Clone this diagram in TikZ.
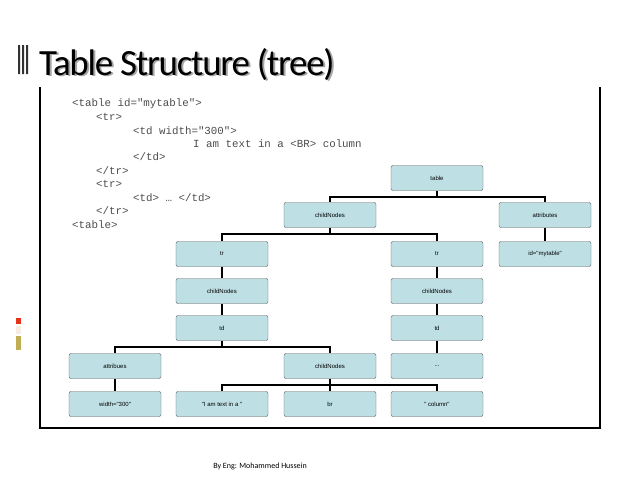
\documentclass[tikz,border=0pt]{standalone}
\usepackage{fontspec}
\setmainfont{Carlito}
\newfontfamily\boxfont{Liberation Sans}
\newfontfamily\codefont{Liberation Mono}
\usepackage{tikz}
\usetikzlibrary{positioning}
\definecolor{boxfill}{RGB}{190,224,229}
\tikzstyle{box}=[rectangle, fill=boxfill, draw=black!65, rounded corners=2pt, minimum width=92pt, minimum height=25pt, font=\boxfont\fontsize{6}{7}\selectfont]
\tikzstyle{code}=[anchor=base west, inner sep=0pt, font=\codefont\fontsize{10.8}{11}\selectfont, text=black!70]
\tikzstyle{link}=[line width=1.6pt]
\tikzstyle{heading}=[anchor=base west, inner sep=0pt, font=\fontsize{37}{38}\selectfont]
\begin{document}
\begin{tikzpicture}[x=1pt,y=-1pt]
\useasboundingbox (0,0) rectangle (638,479);
%Title
\fill[black!80] (18,45) rectangle (20,74) (22,45) rectangle (24,74) (26,45) rectangle (28,74);
\node[heading, text=black!35] (shadow) at (41,76.5) {\addfontfeature{LetterSpace=-3.5}Table Structure (tree)};
\node[heading] (title) at (39,75) {\addfontfeature{LetterSpace=-3.5}Table Structure (tree)};
%Side marks
\fill[red!60!brown] (16,318) rectangle (21,324);
\fill[brown!15] (16,326) rectangle (21,334);
\fill[olive!60!brown!70] (16,336) rectangle (21,350);
%Frame
\draw[line width=1.6pt] (40,87) -- (40,428) -- (600,428) -- (600,87);
%Code
\node[code] (c1) at (72,106) {<table id="mytable">};
\node[code] (c2) at (96,120) {<tr>};
\node[code] (c3) at (133,134) {<td width="300">};
\node[code] (c4) at (193,147) {I am text in a <BR> column};
\node[code] (c5) at (133,160) {</td>};
\node[code] (c6) at (96,174) {</tr>};
\node[code] (c7) at (96,187) {<tr>};
\node[code] (c8) at (133,201) {<td> … </td>};
\node[code] (c9) at (96,214) {</tr>};
\node[code] (c10) at (72,228) {<table>};
%Tree
\node[box] (table) at (437,178) {table};
\node[box] (cn) at (330,215) {childNodes};
\node[box] (attr) at (545,215) {attributes};
\node[box] (id) at (545,254) {id="mytable"};
\node[box] (tr1) at (222,254) {tr};
\node[box] (cn1) at (222,291) {childNodes};
\node[box] (td1) at (222,328) {td};
\node[box] (tr2) at (437,254) {tr};
\node[box] (cn2) at (437,291) {childNodes};
\node[box] (td2) at (437,328) {td};
\node[box] (dots) at (437,366) {...};
\node[box] (attb) at (115,366) {attribues};
\node[box] (width) at (115,404) {width="300"};
\node[box] (cn3) at (330,366) {childNodes};
\node[box] (txt1) at (222,404) {"I am text in a "};
\node[box] (br) at (330,404) {br};
\node[box] (txt2) at (437,404) {" column"};
%Connectors
\foreach \p/\c in {table/cn, table/attr, attr/id, cn/tr1, cn/tr2, tr1/cn1, cn1/td1, tr2/cn2, cn2/td2, td2/dots, td1/attb, td1/cn3, attb/width, cn3/txt1, cn3/br, cn3/txt2}
  \draw[link] (\p.south) -- ++(0,6) -| (\c.north);
%Footer
\node[font=\fontsize{8}{9}\selectfont] (foot) at (260,466) {By Eng: Mohammed Hussein};
\end{tikzpicture}
\end{document}
